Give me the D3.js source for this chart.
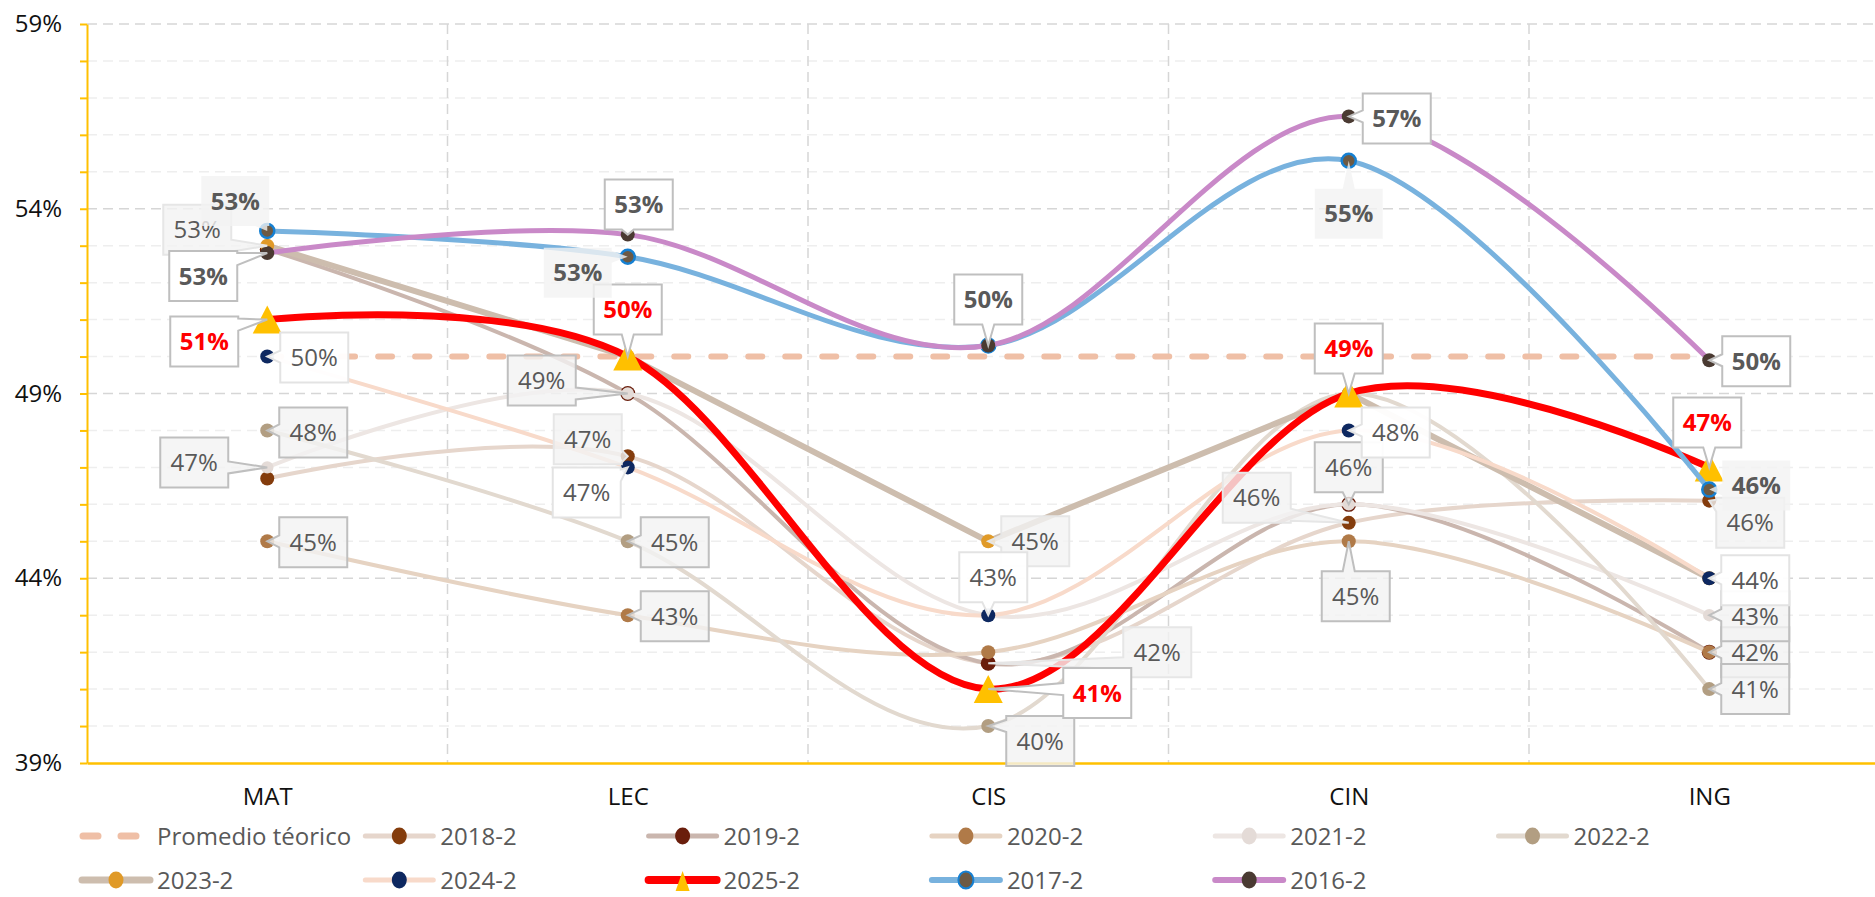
<!DOCTYPE html>
<html>
<head>
<meta charset="UTF-8">
<title>Resultados por área</title>
<script src="https://cdn.jsdelivr.net/npm/d3@7"></script>
<style>
  body { margin: 0; background: #fff; }
  svg { display: block; font-family: "Open Sans", "Noto Sans", sans-serif; }
</style>
</head>
<body>
<div id="chart"></div>
<script>

// ---- data ----
var categories = ['MAT', 'LEC', 'CIS', 'CIN', 'ING'];
var yTickLabels = [39, 44, 49, 54, 59];

var promedio = [50, 50, 50, 50, 50];
var v2018 = [46.7, 47.3, 41.7, 45.5, 46.1];
var v2019 = [52.9, 49.0, 41.7, 46.0, 42.0];
var v2020 = [45.0, 43.0, 42.0, 45.0, 42.0];
var v2021 = [47.0, 49.0, 43.0, 46.0, 43.0];
var v2022 = [48.0, 45.0, 40.0, 49.0, 41.0];
var v2023 = [53.0, 50.0, 45.0, 49.0, 44.0];
var v2024 = [50.0, 47.0, 43.0, 48.0, 44.0];
var v2025 = [51.0, 50.0, 41.0, 49.0, 47.0];
var v2017 = [53.4, 52.7, 50.3, 55.3, 46.4];
var v2016 = [52.8, 53.3, 50.3, 56.5, 49.9];

var seriesNames = ['Promedio téorico', '2018-2', '2019-2', '2020-2', '2021-2', '2022-2',
                   '2023-2', '2024-2', '2025-2', '2017-2', '2016-2'];
var seriesValues = [promedio, v2018, v2019, v2020, v2021, v2022, v2023, v2024, v2025, v2017, v2016];

// ---- look of each series ----
var looks = {
  'Promedio téorico': { line: '#EFBFA6', width: 6, dash: '14 23', marker: null },
  '2018-2': { line: '#E6D6CC', width: 4, marker: '#843C0C' },
  '2019-2': { line: '#CAB6AE', width: 4, marker: '#6A1E0C', r: 7.5 },
  '2020-2': { line: '#E6D3C2', width: 4, marker: '#B07A48' },
  '2021-2': { line: '#EDE6E3', width: 4, marker: '#E4DBD7', r: 6.2 },
  '2022-2': { line: '#E2D9CF', width: 4, marker: '#B29E82' },
  '2023-2': { line: '#CDBDAE', width: 6, marker: '#E09A28', straight: true },
  '2024-2': { line: '#F8DACA', width: 4, marker: '#0E2860' },
  '2025-2': { line: '#FF0000', width: 7, marker: '#FFC000', triangle: true },
  '2017-2': { line: '#78B2DE', width: 5, marker: '#6D5A44', markerStroke: '#1680D2' },
  '2016-2': { line: '#C989C8', width: 5, marker: '#4A3A32' }
};

// label box styles
var boxStyles = {
  bold:   { fill: '#FFFFFF', opacity: 1, stroke: '#BFBFBF', color: '#595959', weight: 'bold' },
  shadeB: { fill: '#F2F2F2', opacity: 0.8, stroke: 'none', color: '#595959', weight: 'bold' },
  red:    { fill: '#FFFFFF', opacity: 1, stroke: '#BFBFBF', color: '#FF0000', weight: 'bold' },
  white:  { fill: '#FFFFFF', opacity: 0.95, stroke: '#E3E3E3', color: '#595959', weight: 'normal' },
  shade:  { fill: '#F2F2F2', opacity: 0.8, stroke: '#BFBFBF', color: '#595959', weight: 'normal' },
  faint:  { fill: '#F2F2F2', opacity: 0.8, stroke: '#E6E6E6', color: '#595959', weight: 'normal' }
};

// data-label placement: series, category index, offset of box centre from the point, style
var labelPlacement = [
  ['2018-2', 1, -40, -17, 'faint'], ['2018-2', 2, 169, -11, 'faint'],
  ['2018-2', 3, -92, -25, 'faint'], ['2018-2', 4, 41, 22, 'faint'],
  ['2020-2', 0, 46, 1, 'shade'], ['2020-2', 1, 47, 1, 'shade'],
  ['2020-2', 3, 7, 55, 'shade'], ['2020-2', 4, 46, 0, 'shade'],
  ['2021-2', 0, -73, -5, 'shade'], ['2021-2', 1, -86, -13, 'shade'],
  ['2021-2', 3, 0, -37, 'shade'], ['2021-2', 4, 46, 1, 'shade'],
  ['2022-2', 0, 46, 2, 'shade'], ['2022-2', 1, 47, 1, 'shade'],
  ['2022-2', 2, 52, 15, 'shade'], ['2022-2', 4, 46, 0, 'shade'],
  ['2023-2', 0, -70, -16, 'faint'], ['2023-2', 2, 47, 0, 'faint'],
  ['2024-2', 0, 47, 1, 'white'], ['2024-2', 1, -41, 25, 'white'],
  ['2024-2', 2, 5, -38, 'white'], ['2024-2', 3, 47, 2, 'white'], ['2024-2', 4, 46, 2, 'white'],
  ['2025-2', 0, -63, 22, 'red'], ['2025-2', 1, 0, -47, 'red'], ['2025-2', 2, 109, 4, 'red'],
  ['2025-2', 3, 0, -45, 'red'], ['2025-2', 4, -2, -45, 'red'],
  ['2017-2', 0, -32, -30, 'shadeB'], ['2017-2', 1, -50, 16, 'shadeB'],
  ['2017-2', 3, 0, 53, 'shadeB'], ['2017-2', 4, 47, -4, 'shadeB'],
  ['2016-2', 0, -64, 23, 'bold'], ['2016-2', 1, 11, -30, 'bold'], ['2016-2', 2, 0, -46, 'bold'],
  ['2016-2', 3, 48, 2, 'bold'], ['2016-2', 4, 47, 1, 'bold']
];

// ---- chart ----
var W = 1875, H = 897;
var plotLeft = 87, plotTop = 24, plotBottom = 763, bandW = 360.5;

var svg = d3.select('#chart').append('svg')
  .attr('width', W)
  .attr('height', H);

var x = d3.scalePoint()
  .domain(categories)
  .range([plotLeft, plotLeft + bandW * categories.length])
  .padding(0.5);

var y = d3.scaleLinear()
  .domain([39, 59])
  .range([plotBottom, plotTop]);

// gridlines
var grid = svg.append('g');
grid.selectAll('.minor')
  .data(d3.range(40, 59).filter(d => yTickLabels.indexOf(d) < 0))
  .enter().append('line')
    .attr('x1', plotLeft).attr('x2', W)
    .attr('y1', d => y(d)).attr('y2', d => y(d))
    .style('stroke', '#EEEEEE').style('stroke-width', 1.5).style('stroke-dasharray', '10 6');
grid.selectAll('.major')
  .data(yTickLabels.slice(1))
  .enter().append('line')
    .attr('x1', plotLeft).attr('x2', W)
    .attr('y1', d => y(d)).attr('y2', d => y(d))
    .style('stroke', '#D6D6D6').style('stroke-width', 1.5).style('stroke-dasharray', '10 6');
grid.selectAll('.vert')
  .data(d3.range(1, categories.length))
  .enter().append('line')
    .attr('x1', d => plotLeft + d * bandW).attr('x2', d => plotLeft + d * bandW)
    .attr('y1', plotTop).attr('y2', plotBottom)
    .style('stroke', '#D6D6D6').style('stroke-width', 1.5).style('stroke-dasharray', '10 6');

// axes
var yAxis = svg.append('g')
  .attr('transform', `translate(${plotLeft},0)`)
  .call(d3.axisLeft(y)
    .tickValues(d3.range(39, 60))
    .tickSize(7)
    .tickSizeOuter(0)
    .tickPadding(18)
    .tickFormat(d => yTickLabels.indexOf(d) >= 0 ? d + '%' : ''));
yAxis.select('.domain').style('stroke', '#FFC000').style('stroke-width', 2);
yAxis.selectAll('.tick line').style('stroke', '#FFC000').style('stroke-width', 2);
yAxis.selectAll('.tick text').style('font-size', '24px').style('fill', '#111')
  .style('font-family', '"Open Sans", sans-serif');

var xAxis = svg.append('g')
  .attr('transform', `translate(0,${plotBottom})`)
  .call(d3.axisBottom(x).tickSize(0).tickSizeOuter(0).tickPadding(25));
xAxis.select('.domain').style('stroke', '#FFC000').style('stroke-width', 2.5);
xAxis.selectAll('.tick text').style('font-size', '24px').style('fill', '#111')
  .style('font-family', '"Open Sans", sans-serif');

// lines
var smooth = d3.line()
  .x((d, i) => x(categories[i]))
  .y(d => y(d))
  .curve(d3.curveCardinal.tension(0));
var straight = d3.line()
  .x((d, i) => x(categories[i]))
  .y(d => y(d));

var series = seriesNames.map((name, i) => ({ name: name, values: seriesValues[i], look: looks[name] }));

function triPath(cx, cy, w, h) {
  return `M${cx},${cy - h / 2}L${cx + w / 2},${cy + h / 2}L${cx - w / 2},${cy + h / 2}Z`;
}

series.forEach(s => {
  var g = svg.append('g');
  g.append('path')
    .attr('d', s.look.straight ? straight(s.values) : smooth(s.values))
    .style('fill', 'none')
    .style('stroke', s.look.line)
    .style('stroke-width', s.look.width)
    .style('stroke-linecap', 'round')
    .style('stroke-linejoin', 'round')
    .style('stroke-dasharray', s.look.dash || null);
  if (!s.look.marker) return;
  if (s.look.triangle) {
    g.selectAll('.m').data(s.values).enter().append('path')
      .attr('d', (d, i) => triPath(x(categories[i]), y(d), 29, 28))
      .style('fill', s.look.marker);
  } else {
    g.selectAll('.m').data(s.values).enter().append('circle')
      .attr('cx', (d, i) => x(categories[i]))
      .attr('cy', d => y(d))
      .attr('r', s.look.r || 7)
      .style('fill', s.look.marker)
      .style('stroke', s.look.markerStroke || 'none')
      .style('stroke-width', 2.5);
  }
});

// data labels with callout pointers
function clamp(v, a, b) { return Math.max(a, Math.min(b, v)); }
function callout(cx, cy, w, h, px, py) {
  var x0 = cx - w / 2, x1 = cx + w / 2, y0 = cy - h / 2, y1 = cy + h / 2, b = 6, m;
  var side = null;
  if (!(px > x0 && px < x1 && py > y0 && py < y1)) {
    var rx = (px - cx) / (w / 2), ry = (py - cy) / (h / 2);
    side = Math.abs(rx) > Math.abs(ry) ? (rx > 0 ? 'r' : 'l') : (ry > 0 ? 'b' : 't');
  }
  var p = d3.path();
  p.moveTo(x0, y0);
  if (side === 't') { m = clamp(px, x0 + b + 2, x1 - b - 2); p.lineTo(m - b, y0); p.lineTo(px, py); p.lineTo(m + b, y0); }
  p.lineTo(x1, y0);
  if (side === 'r') { m = clamp(py, y0 + b + 2, y1 - b - 2); p.lineTo(x1, m - b); p.lineTo(px, py); p.lineTo(x1, m + b); }
  p.lineTo(x1, y1);
  if (side === 'b') { m = clamp(px, x0 + b + 2, x1 - b - 2); p.lineTo(m + b, y1); p.lineTo(px, py); p.lineTo(m - b, y1); }
  p.lineTo(x0, y1);
  if (side === 'l') { m = clamp(py, y0 + b + 2, y1 - b - 2); p.lineTo(x0, m + b); p.lineTo(px, py); p.lineTo(x0, m - b); }
  p.closePath();
  return p.toString();
}

var labels = svg.append('g');
labelPlacement.forEach(l => {
  var vals = seriesValues[seriesNames.indexOf(l[0])];
  var v = vals[l[1]];
  var px = x(categories[l[1]]), py = y(v);
  var cx = px + l[2], cy = py + l[3];
  var st = boxStyles[l[4]];
  var g = labels.append('g');
  g.append('path')
    .attr('d', callout(cx, cy, 68, 50, px, py))
    .style('fill', st.fill)
    .style('fill-opacity', st.opacity)
    .style('stroke', st.stroke)
    .style('stroke-width', 2);
  g.append('text')
    .attr('x', cx).attr('y', cy)
    .attr('dy', '0.36em')
    .attr('text-anchor', 'middle')
    .style('font-size', '24px')
    .style('font-weight', st.weight)
    .style('fill', st.color)
    .text(Math.round(v) + '%');
});

// legend
var legend = svg.append('g');
series.forEach((s, i) => {
  var col = i % 6, row = Math.floor(i / 6);
  var lx = 80 + col * 283.3, ly = 836 + row * 44;
  var g = legend.append('g').attr('transform', `translate(${lx},${ly})`);
  g.append('line')
    .attr('x1', s.look.dash ? 3 : 2).attr('x2', 70)
    .attr('y1', 0).attr('y2', 0)
    .style('stroke', s.look.line)
    .style('stroke-width', s.look.width + 1)
    .style('stroke-linecap', 'round')
    .style('stroke-dasharray', s.look.dash ? '15 23' : null);
  if (s.look.marker) {
    if (s.look.triangle) {
      g.append('path').attr('d', triPath(36, 1, 14, 20)).style('fill', s.look.marker);
    } else {
      g.append('ellipse')
        .attr('cx', 36).attr('cy', 0).attr('rx', 7.5).attr('ry', 8.5)
        .style('fill', s.look.marker)
        .style('stroke', s.look.markerStroke || 'none')
        .style('stroke-width', 2);
    }
  }
  g.append('text')
    .attr('x', 77).attr('y', 0).attr('dy', '0.36em')
    .style('font-size', '24px')
    .style('fill', '#595959')
    .text(s.name);
});

</script>
</body>
</html>
